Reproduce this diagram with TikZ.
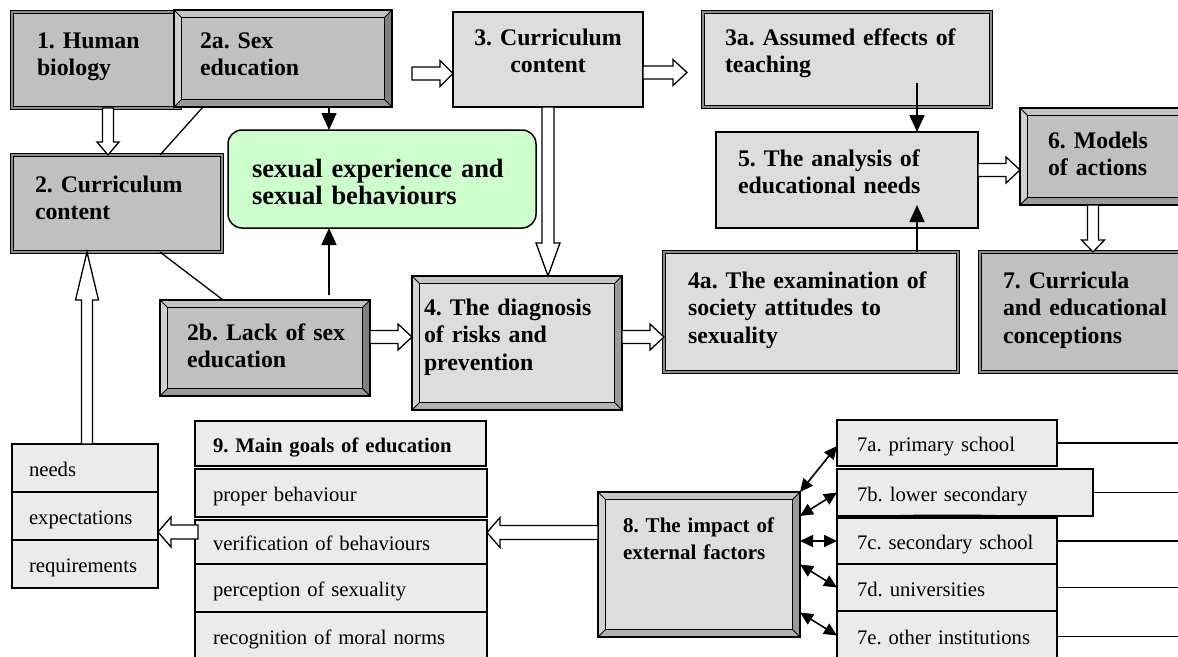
\documentclass[tikz,border=0pt]{standalone}
\usepackage{fontspec}
\setmainfont{Liberation Serif}
\usetikzlibrary{calc,arrows.meta}
\frenchspacing
\definecolor{cDark}{HTML}{C0C0C0}
\definecolor{cLight}{HTML}{DDDDDD}
\definecolor{cTab}{HTML}{EBEBEB}
\definecolor{cGreen}{HTML}{CCFFCC}
\definecolor{cGap}{HTML}{8C8C8C}
\definecolor{dT}{HTML}{C4C4C4}
\definecolor{dL}{HTML}{D0D0D0}
\definecolor{dR}{HTML}{808080}
\definecolor{dB}{HTML}{999999}
\definecolor{lT}{HTML}{C6C6C6}
\definecolor{lL}{HTML}{D2D2D2}
\definecolor{lR}{HTML}{9A9A9A}
\definecolor{lB}{HTML}{B2B2B2}
\newcommand\fontBX{\fontsize{23.8}{27.5}\selectfont\bfseries\frenchspacing}
\newcommand\fontBXs{\fontsize{21}{27.5}\selectfont\bfseries\frenchspacing}
\newcommand\fontGR{\fontsize{26.5}{27}\selectfont\bfseries\frenchspacing}
\newcommand\fontTB{\fontsize{20.7}{24}\selectfont\frenchspacing}
\newcommand\fontTBb{\fontsize{20.7}{24}\selectfont\bfseries\frenchspacing}
% bevel: name, top, left, right, bottom
\newcommand\bevelbox[5]{%
  \fill[#2] (#1.north west) -- (#1.north east) -- ([shift={(-7.5,7.5)}]#1.north east) -- ([shift={(7.5,7.5)}]#1.north west) -- cycle;
  \fill[#3] (#1.north west) -- ([shift={(7.5,7.5)}]#1.north west) -- ([shift={(7.5,-7.5)}]#1.south west) -- (#1.south west) -- cycle;
  \fill[#4] (#1.north east) -- (#1.south east) -- ([shift={(-7.5,-7.5)}]#1.south east) -- ([shift={(-7.5,7.5)}]#1.north east) -- cycle;
  \fill[#5] (#1.south west) -- ([shift={(7.5,-7.5)}]#1.south west) -- ([shift={(-7.5,-7.5)}]#1.south east) -- (#1.south east) -- cycle;
  \draw[line width=0.8pt] (#1.north west) -- ++(7.5,7.5) (#1.north east) -- ++(-7.5,7.5) (#1.south west) -- ++(7.5,-7.5) (#1.south east) -- ++(-7.5,-7.5);
  \draw[line width=1.3pt] ([shift={(7.5,7.5)}]#1.north west) rectangle ([shift={(-7.5,-7.5)}]#1.south east);
  \draw[line width=1.6pt] (#1.north west) rectangle (#1.south east);
}
% hollow block arrows: tail, tip, head length, shaft half width, head half width
\newcommand\hollowD[5]{\draw[hol] ($(#1)+(-#4,0)$) -- ($(#2)+(-#4,-#3)$) -- ($(#2)+(-#5,-#3)$) -- (#2) -- ($(#2)+(#5,-#3)$) -- ($(#2)+(#4,-#3)$) -- ($(#1)+(#4,0)$) -- cycle;}
\newcommand\hollowU[5]{\draw[hol] ($(#1)+(-#4,0)$) -- ($(#2)+(-#4,#3)$) -- ($(#2)+(-#5,#3)$) -- (#2) -- ($(#2)+(#5,#3)$) -- ($(#2)+(#4,#3)$) -- ($(#1)+(#4,0)$) -- cycle;}
\newcommand\hollowR[5]{\draw[hol] ($(#1)+(0,-#4)$) -- ($(#2)+(-#3,-#4)$) -- ($(#2)+(-#3,-#5)$) -- (#2) -- ($(#2)+(-#3,#5)$) -- ($(#2)+(-#3,#4)$) -- ($(#1)+(0,#4)$) -- cycle;}
\newcommand\hollowL[5]{\draw[hol] ($(#1)+(0,-#4)$) -- ($(#2)+(#3,-#4)$) -- ($(#2)+(#3,-#5)$) -- (#2) -- ($(#2)+(#3,#5)$) -- ($(#2)+(#3,#4)$) -- ($(#1)+(0,#4)$) -- cycle;}
\begin{document}
\begin{tikzpicture}[x=1pt,y=-1pt,
  bx/.style={anchor=north west, inner ysep=0pt, outer sep=0pt, align=left, font=\fontBX},
  dframe/.style={draw=black, line width=1.1pt, double=cGap, double distance=1.3pt},
  cell/.style={anchor=north west, draw=black, line width=1.4pt, fill=cTab, outer sep=0pt, inner ysep=0pt, align=left, font=\fontTB, text height=17pt, text depth=0pt},
  hol/.style={draw=black, fill=white, line width=1.3pt, line join=miter},
  blk/.style={line width=1.6pt, -{Triangle[length=17pt,width=15pt]}},
  dbl/.style={line width=1.6pt, {Triangle[length=13pt,width=12pt]}-{Triangle[length=13pt,width=12pt]}},
  thinln/.style={line width=1.3pt}]
\useasboundingbox (0,0) rectangle (1178,656);
\fill[white] (0,0) rectangle (1178,656);
\clip (0,0) rectangle (1178,656);

% ---- top row ----
\node[bx, dframe, fill=cDark, minimum width=168pt, minimum height=96pt, text width=118pt, inner xsep=25pt, text height=36pt, text depth=60pt] (b1) at (12,12) {1.~Human\\biology};
\node[bx, fill=cDark, minimum width=218pt, minimum height=97pt, text width=166pt, inner xsep=26pt, text height=38pt, text depth=59pt] (b2a) at (174,10) {2a.~Sex\\education};
\bevelbox{b2a}{dT}{dL}{dR}{dB}
\node[bx, draw, line width=2.5pt, fill=cLight, align=center, minimum width=190pt, minimum height=95pt, text width=170pt, inner xsep=10pt, text height=33pt, text depth=62pt] (b3) at (453,12) {3.~Curriculum\\content};
\node[bx, dframe, fill=cLight, minimum width=288pt, minimum height=95pt, text width=244pt, inner xsep=22pt, text height=33pt, text depth=62pt] (b3a) at (703,12) {3a.~Assumed~effects~of\\teaching};

% ---- second row ----
\node[bx, dframe, fill=cDark, minimum width=210pt, minimum height=97pt, text width=164pt, inner xsep=23pt, text height=37pt, text depth=60pt] (b2) at (12,155) {2.~Curriculum\\content};
\node[bx, fill=cGreen, draw, line width=1.5pt, rounded corners=14pt, font=\fontGR, minimum width=308pt, minimum height=98pt, text width=260pt, inner xsep=24pt, text height=47pt, text depth=51pt] (g) at (228,130) {sexual~experience~and\\sexual~behaviours};
\node[bx, draw, line width=2pt, fill=cLight, minimum width=262pt, minimum height=96pt, text width=218pt, inner xsep=22pt, text height=34pt, text depth=62pt] (b5) at (716,132) {5.~The~analysis~of\\educational~needs};
\node[bx, fill=cDark, minimum width=200pt, minimum height=97pt, text width=144pt, inner xsep=28pt, text height=40pt, text depth=57pt] (b6) at (1020,108) {6.~Models\\of~actions};
\bevelbox{b6}{dT}{dL}{dR}{dB}

% ---- third row ----
\node[bx, fill=cDark, minimum width=210pt, minimum height=96pt, text width=156pt, inner xsep=27pt, text height=40pt, text depth=56pt] (b2b) at (160,300) {2b.~Lack~of~sex\\education};
\bevelbox{b2b}{dT}{dL}{dR}{dB}
\node[bx, fill=cLight, minimum width=210pt, minimum height=134pt, text width=186pt, inner xsep=12pt, text height=39pt, text depth=95pt] (b4) at (412,276) {4.~The~diagnosis\\of~risks~and\\prevention};
\bevelbox{b4}{lT}{lL}{lR}{lB}
\node[bx, dframe, fill=cLight, minimum width=294pt, minimum height=120pt, text width=246pt, inner xsep=24pt, text height=36pt, text depth=84pt] (b4a) at (664,252) {4a.~The~examination~of\\society~attitudes~to\\sexuality};
\node[bx, dframe, fill=cDark, minimum width=220pt, minimum height=120pt, text width=174pt, inner xsep=23pt, text height=36pt, text depth=84pt] (b7) at (980,252) {7.~Curricula\\and~educational\\conceptions};

% ---- bottom ----
\node[bx, fill=cLight, font=\fontBXs, minimum width=202pt, minimum height=145pt, text width=152pt, inner xsep=25pt, text height=40pt, text depth=105pt] (b8) at (598,492) {8.~The~impact~of\\external~factors};
\bevelbox{b8}{lT}{lL}{lR}{lB}

\node[cell, minimum width=146pt, minimum height=48pt, text width=112pt, inner xsep=17pt] (nd1) at (12,444) {needs};
\node[cell, minimum width=146pt, minimum height=48pt, text width=112pt, inner xsep=17pt] (nd2) at (12,492) {expectations};
\node[cell, minimum width=146pt, minimum height=48pt, text width=112pt, inner xsep=17pt] (nd3) at (12,540) {requirements};

\node[cell, font=\fontTBb, minimum width=291pt, minimum height=45pt, text width=255pt, inner xsep=18pt] (g9h) at (195,421) {9.~Main~goals~of~education};
\node[cell, minimum width=292pt, minimum height=48pt, text width=256pt, inner xsep=18pt] (g9a) at (195,469) {proper behaviour};
\node[cell, minimum width=292pt, minimum height=44pt, text width=256pt, inner xsep=18pt] (g9b) at (195,520) {verification of behaviours};
\node[cell, minimum width=292pt, minimum height=48pt, text width=256pt, inner xsep=18pt] (g9c) at (195,564) {perception of sexuality};
\node[cell, minimum width=292pt, minimum height=48pt, text width=256pt, inner xsep=18pt] (g9d) at (195,612) {recognition of moral norms};

\node[cell, minimum width=220pt, minimum height=46pt, text width=180pt, inner xsep=20pt] (t7a) at (837,420) {7a. primary school};
\node[cell, minimum width=256pt, minimum height=47pt, text width=216pt, inner xsep=20pt] (t7b) at (837,469) {7b. lower secondary};
\node[cell, minimum width=220pt, minimum height=46pt, text width=180pt, inner xsep=20pt] (t7c) at (837,518) {7c. secondary school};
\draw[line width=1pt] (t7c.north west) .. controls ($(t7c.north west)+(60,-4)$) and ($(t7c.north east)+(-60,-4)$) .. (t7c.north east);
\node[cell, minimum width=220pt, minimum height=47pt, text width=180pt, inner xsep=20pt] (t7d) at (837,564) {7d. universities};
\node[cell, minimum width=220pt, minimum height=49pt, text width=180pt, inner xsep=20pt] (t7e) at (837,611) {7e. other institutions};

% ---- hollow arrows ----
\coordinate (a1t) at ($(b1.south)+(12,0)$);
\coordinate (a1h) at (a1t |- b2.north);
\hollowD{a1t}{a1h}{13}{5.5}{11}
\coordinate (a2t) at ($(b2a.east)+(20,15)$);
\coordinate (a2h) at (a2t -| b3.west);
\hollowR{a2t}{a2h}{13}{6.5}{13}
\coordinate (a3t) at ($(b3.east)+(0,13)$);
\coordinate (a3h) at ($(a3t -| b3a.west)+(-16,0)$);
\hollowR{a3t}{a3h}{14}{6.5}{13}
\coordinate (a4t) at (b3.south);
\coordinate (a4h) at (a4t |- b4.north);
\hollowD{a4t}{a4h}{33}{6}{12}
\coordinate (a5t) at ($(b5.east)+(0,-10)$);
\coordinate (a5h) at (a5t -| b6.west);
\hollowR{a5t}{a5h}{14}{6.5}{13}
\coordinate (a6t) at ($(b6.south west)+(73,0)$);
\coordinate (a6h) at (a6t |- b7.north);
\hollowD{a6t}{a6h}{12}{5.5}{11.5}
\coordinate (a7t) at ($(b2b.east)+(0,-11)$);
\coordinate (a7h) at (a7t -| b4.west);
\hollowR{a7t}{a7h}{14}{6.5}{13}
\coordinate (a8t) at ($(b4.east)+(0,-6)$);
\coordinate (a8h) at (a8t -| b4a.west);
\hollowR{a8t}{a8h}{14}{6.5}{13}
\coordinate (a9t) at ($(nd1.north)+(2,0)$);
\coordinate (a9h) at (a9t |- b2.south);
\hollowU{a9t}{a9h}{48}{5.5}{11.5}
\coordinate (a10t) at ($(g9b.west)+(3,-10)$);
\coordinate (a10h) at (a10t -| nd2.east);
\hollowL{a10t}{a10h}{13}{7}{15}
\coordinate (a11t) at ($(b8.west)+(0,-32)$);
\coordinate (a11h) at (a11t -| g9b.east);
\hollowL{a11t}{a11h}{13}{7}{15}

% ---- black arrows ----
\coordinate (k1) at ($(b2a.south)+(46,0)$);
\draw[blk] (k1) -- (k1 |- g.north);
\coordinate (k2) at ($(b2b.north)+(64,-5)$);
\draw[blk] (k2) -- (k2 |- g.south);
\coordinate (k3) at ($(b3a.south)+(70,-24)$);
\draw[blk] (k3) -- (k3 |- b5.north);
\coordinate (k4) at ($(b4a.north)+(106,0)$);
\coordinate (k4h) at ($(b5.south)+(70,-23)$);
\draw[blk] (k4) -- (k4 |- k4h);

% ---- thin lines ----
\draw[thinln] ($(b2a.south west)+(29,0)$) -- ($(b2.north)+(43,0)$);
\draw[thinln] ($(b2.south)+(43,0)$) -- ($(b2b.north west)+(63,0)$);

% ---- double arrows 8 <-> 7x ----
\draw[dbl] (b8.north east) -- ($(t7a.west)+(0,3)$);
\draw[dbl] ($(b8.north east)+(0,24)$) -- (t7b.west);
\draw[dbl] ($(b8.east)+(0,-23.5)$) -- (t7c.west);
\draw[dbl] (b8.east) -- (t7d.west);
\draw[dbl] ($(b8.east)+(0,48)$) -- (t7e.west);

% ---- lines to the right edge ----
\coordinate (re) at (1190,0);
\draw[thinln] (t7a.east) -- (t7a.east -| re);
\draw[thinln] (t7b.east) -- (t7b.east -| re);
\draw[thinln] (t7c.east) -- (t7c.east -| re);
\draw[thinln] (t7d.east) -- (t7d.east -| re);
\draw[thinln] ($(t7e.east)+(0,1)$) -- ($(t7e.east -| re)+(0,1)$);
\end{tikzpicture}
\end{document}
